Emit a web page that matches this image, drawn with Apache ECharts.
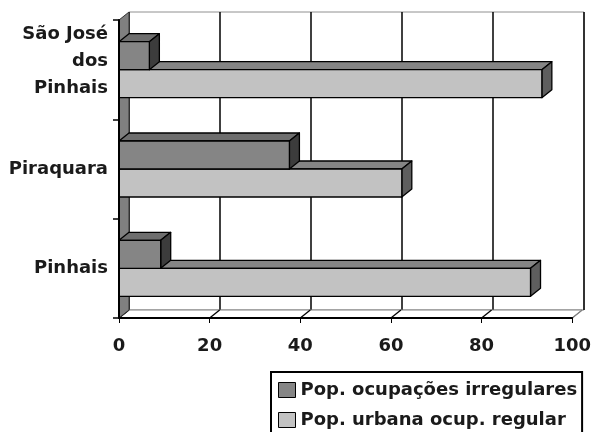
<!DOCTYPE html>
<html>
<head>
<meta charset="utf-8">
<script src="https://cdn.jsdelivr.net/npm/echarts@6/dist/echarts.min.js"></script>
<style>html,body{margin:0;padding:0;background:#fff}#c{width:594px;height:432px}</style>
</head>
<body>
<div id="c"></div>
<script>
// ---- data ----
const categories = ['Pinhais', 'Piraquara', 'São José\ndos\nPinhais'];
const seriesNames = ['Pop. ocupações irregulares', 'Pop. urbana ocup. regular'];
const irregular = [9.2, 37.6, 6.7];
const regular = [90.8, 62.4, 93.3];
const xMin = 0, xMax = 100, xStep = 20;

// ---- styling ----
const FONT = 'DejaVu Sans';
const DX = 10, DY = -8;
const colIrr = { front: '#858585', top: '#6e6e6e', side: '#3c3c3c' };
const colReg = { front: '#c2c2c2', top: '#858585', side: '#5e5e5e' };

function barRender(isUpper, col) {
  return function (params, api) {
    const v = api.value(0), c = api.value(1);
    const p0 = api.coord([0, c]);
    const p1 = api.coord([v, c]);
    const bandH = api.size([0, 1])[1];
    const h = bandH * 0.282;
    const yTop = isUpper ? p0[1] - h : p0[1];
    const yBot = isUpper ? p0[1] : p0[1] + h;
    const x0 = p0[0], x1 = p1[0];
    const st = { stroke: '#000', lineWidth: 1.3, lineJoin: 'round' };
    const children = [
      { type: 'polygon', shape: { points: [[x0, yTop], [x1, yTop], [x1 + DX, yTop + DY], [x0 + DX, yTop + DY]] }, style: Object.assign({ fill: col.top }, st) },
      { type: 'polygon', shape: { points: [[x1, yTop], [x1 + DX, yTop + DY], [x1 + DX, yBot + DY], [x1, yBot]] }, style: Object.assign({ fill: col.side }, st) },
      { type: 'rect', shape: { x: x0, y: yTop, width: x1 - x0, height: yBot - yTop }, style: Object.assign({ fill: col.front }, st) }
    ];
    if (!isUpper) {
      children.unshift({ type: 'line', shape: { x1: x0, y1: yBot, x2: x0 + DX, y2: yBot + DY }, style: { stroke: '#000', lineWidth: 1.3 } });
    }
    return { type: 'group', children: children };
  };
}

function frameRender(params, api) {
  const n = categories.length;
  const bandH = api.size([0, 1])[1];
  const yB = api.coord([xMin, 0])[1] + bandH / 2;
  const yT = api.coord([xMin, n - 1])[1] - bandH / 2;
  const xL = api.coord([xMin, 0])[0];
  const xR = api.coord([xMax, 0])[0];
  const children = [];
  children.push({ type: 'polygon', shape: { points: [[xL, yB], [xR, yB], [xR + DX, yB + DY], [xL + DX, yB + DY]] }, style: { fill: '#fff', stroke: '#808080', lineWidth: 1 } });
  for (let t = xMin; t <= xMax; t += xStep) {
    const x = api.coord([t, 0])[0];
    children.push({ type: 'line', shape: { x1: x, y1: yB, x2: x + DX, y2: yB + DY }, style: { stroke: t === xMax ? '#808080' : '#000', lineWidth: 1.3 } });
  }
  children.push({ type: 'polygon', shape: { points: [[xL, yB], [xL + DX, yB + DY], [xL + DX, yT + DY], [xL, yT]] }, style: { fill: '#808080', stroke: '#333', lineWidth: 1 } });
  return { type: 'group', children: children };
}

function catLabel(v) {
  if (v.indexOf('\n') >= 0) {
    return v.split('\n').map(function (s) { return '{a|' + s + '}'; }).join('\n') + '\n{s| }';
  }
  return '{a|' + v + '}';
}

const chart = echarts.init(document.getElementById('c'), null, { renderer: 'canvas' });
chart.setOption({
  animation: false,
  backgroundColor: '#fff',
  grid: [
    { left: 119, top: 20, width: 455, height: 298, containLabel: false },
    { left: 129, top: 12, width: 455, height: 298, show: true, backgroundColor: '#fff', borderColor: '#909090', borderWidth: 1, containLabel: false }
  ],
  xAxis: [
    {
      gridIndex: 0, type: 'value', min: xMin, max: xMax, interval: xStep, z: 5,
      axisLine: { show: true, lineStyle: { color: '#000', width: 2 } },
      axisTick: { show: true, length: 5, lineStyle: { color: '#000', width: 1 } },
      axisLabel: { margin: 19, color: '#1a1a1a', fontFamily: FONT, fontWeight: 'bold', fontSize: 18 },
      splitLine: { show: false }
    },
    {
      gridIndex: 1, type: 'value', min: xMin, max: xMax, interval: xStep, z: 0,
      axisLine: { show: false }, axisTick: { show: false }, axisLabel: { show: false },
      splitLine: { show: true, lineStyle: { color: '#000', width: 1.5 } }
    }
  ],
  yAxis: [
    {
      gridIndex: 0, type: 'category', z: 5,
      data: categories,
      axisLine: { show: true, lineStyle: { color: '#000', width: 2 } },
      axisTick: { show: true, length: 6, lineStyle: { color: '#000', width: 1.5 } },
      axisLabel: {
        margin: 11, align: 'right', formatter: catLabel,
        rich: {
          a: { color: '#1a1a1a', fontFamily: FONT, fontWeight: 'bold', fontSize: 18, lineHeight: 27, align: 'right' },
          s: { fontSize: 10, lineHeight: 16 }
        }
      },
      splitLine: { show: false }
    },
    {
      gridIndex: 1, type: 'value', min: 0, max: 1,
      axisLine: { show: false }, axisTick: { show: false }, axisLabel: { show: false }, splitLine: { show: false }
    }
  ],
  legend: {
    orient: 'vertical', left: 271, top: 372, height: 120,
    itemWidth: 17, itemHeight: 15, itemGap: 12,
    padding: [9, 5, 50, 7],
    borderColor: '#000', borderWidth: 2,
    selectedMode: false,
    icon: 'rect',
    textStyle: { color: '#1a1a1a', fontFamily: FONT, fontWeight: 'bold', fontSize: 18 },
    data: [
      { name: seriesNames[0], itemStyle: { color: colIrr.front, borderColor: '#000', borderWidth: 1 } },
      { name: seriesNames[1], itemStyle: { color: colReg.front, borderColor: '#000', borderWidth: 1 } }
    ]
  },
  series: [
    {
      name: 'frame', type: 'custom', xAxisIndex: 0, yAxisIndex: 0, z: 1, silent: true,
      renderItem: frameRender, data: [[xMin, 0]]
    },
    {
      name: seriesNames[1], type: 'custom', xAxisIndex: 0, yAxisIndex: 0, z: 2,
      itemStyle: { color: colReg.front },
      renderItem: barRender(false, colReg),
      data: regular.map(function (v, i) { return [v, i]; })
    },
    {
      name: seriesNames[0], type: 'custom', xAxisIndex: 0, yAxisIndex: 0, z: 3,
      itemStyle: { color: colIrr.front },
      renderItem: barRender(true, colIrr),
      data: irregular.map(function (v, i) { return [v, i]; })
    }
  ]
});
</script>
</body>
</html>
